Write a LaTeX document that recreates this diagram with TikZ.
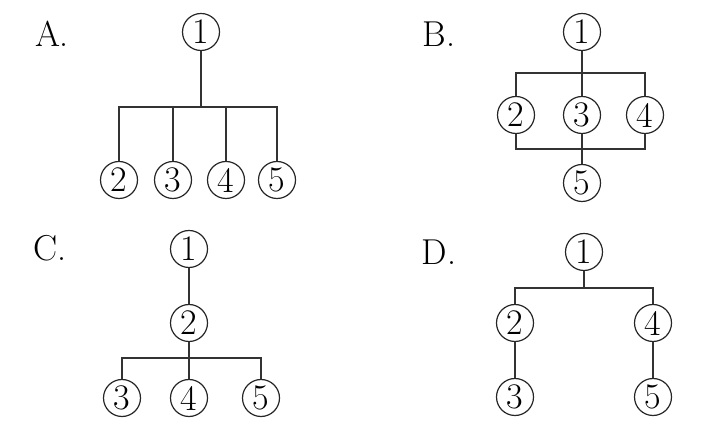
\documentclass[tikz,border=0pt]{standalone}
\usepackage{fontspec}
\usepackage{tikz}
\usetikzlibrary{positioning,calc}
\tikzset{
  num/.style   ={circle, draw=black!85, line width=0.6pt, minimum size=18.5pt,
                 inner sep=0pt, font=\fontsize{18}{18}\selectfont},
  opt/.style   ={font=\fontsize{18}{18}\selectfont, inner sep=0pt},
  ln/.style    ={draw=black!80, line width=0.55pt},
}
\begin{document}
\begin{tikzpicture}[x=0.5pt,y=-0.5pt]
  \useasboundingbox (0,0) rectangle (726,431);
  % A
  \node[opt] (la) at (52,34) {A.};
  \node[num] (a1) at (201,32) {1};
  \node[num] (a2) at (119,180) {2};\node[num] (a3) at (173,180) {3};
  \node[num] (a4) at (226,180) {4};\node[num] (a5) at (277,180) {5};
  \coordinate (aj) at (201,107);
  \draw[ln](a1)--(aj);\draw[ln](a2)|-(aj);\draw[ln](a5)|-(aj);
  \draw[ln](a3)--(a3|-aj);\draw[ln](a4)--(a4|-aj);
  % B
  \node[opt] (lb) at (439,34) {B.};
  \node[num] (b1) at (582,32) {1};
  \node[num] (b2) at (516,115) {2};\node[num] (b3) at (582,115) {3};
  \node[num] (b4) at (645,115) {4};
  \node[num] (b5) at (582,183) {5};
  \coordinate (bt) at (582,73);\coordinate (bb) at (582,149);
  \draw[ln](b1)--(b3);\draw[ln](b2)|-(bt);\draw[ln](b4)|-(bt);
  \draw[ln](b3)--(b5);\draw[ln](b2)|-(bb);\draw[ln](b4)|-(bb);
  % C
  \node[opt] (lc) at (50,248) {C.};
  \node[num] (c1) at (189,249) {1};
  \node[num] (c2) at (189,323) {2};
  \node[num] (c3) at (122,398) {3};\node[num] (c4) at (189,398) {4};
  \node[num] (c5) at (261,398) {5};
  \coordinate (cj) at (189,358);
  \draw[ln](c1)--(c2);\draw[ln](c2)--(c4);\draw[ln](c3)|-(cj);\draw[ln](c5)|-(cj);
  % D
  \node[opt] (ld) at (439,252) {D.};
  \node[num] (d1) at (584,252) {1};
  \node[num] (d2) at (515,323) {2};\node[num] (d4) at (653,323) {4};
  \node[num] (d3) at (515,397) {3};\node[num] (d5) at (653,397) {5};
  \coordinate (dj) at (584,288);
  \draw[ln](d1)--(dj);\draw[ln](d2)|-(dj);\draw[ln](d4)|-(dj);
  \draw[ln](d2)--(d3);\draw[ln](d4)--(d5);
\end{tikzpicture}
\end{document}
